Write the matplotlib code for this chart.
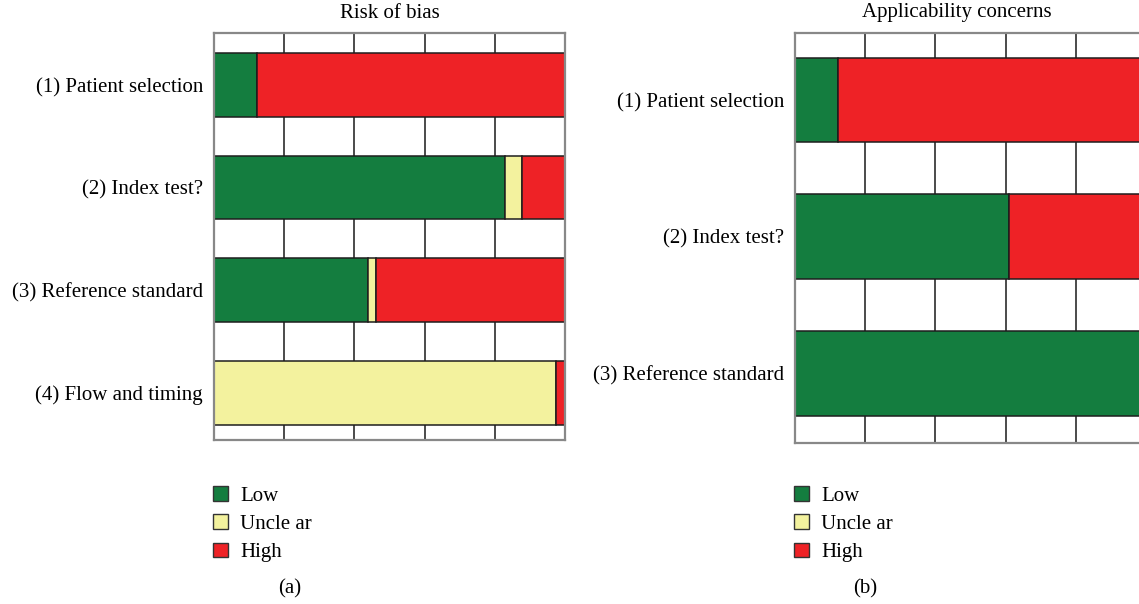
import matplotlib
matplotlib.use("Agg")
import matplotlib.pyplot as plt
from matplotlib.patches import Patch

plt.rcParams['font.family'] = ['Liberation Serif', 'DejaVu Serif']

# data (percent of studies)
domains_bias = ["(1) Patient selection", "(2) Index test?",
                "(3) Reference standard", "(4) Flow and timing"]
low_bias = [12.3, 82.9, 43.9, 0.0]
unclear_bias = [0.0, 4.8, 2.3, 97.4]
high_bias = [87.7, 12.3, 53.8, 2.6]

domains_appl = ["(1) Patient selection", "(2) Index test?", "(3) Reference standard"]
low_appl = [12.3, 61.0, 100.0]
unclear_appl = [0.0, 0.0, 0.0]
high_appl = [87.7, 39.0, 0.0]

legend_labels = ["Low", "Uncle ar", "High"]
colors = ["#147d3f", "#f3f29e", "#ee2226"]

FS = 15
W, H = 1139, 604
fig = plt.figure(figsize=(W / 100, H / 100), dpi=100)


def px_axes(left, top, right, bottom):
    return fig.add_axes([left / W, 1 - bottom / H, (right - left) / W, (bottom - top) / H])


def draw_panel(ax, domains, low, unclear, high, ylim):
    ypos = list(range(len(domains)))
    for x in [20, 40, 60, 80]:
        ax.axvline(x, color="#1a1a1a", lw=1.1, zorder=1)
    left = [0] * len(domains)
    for vals, col in zip([low, unclear, high], colors):
        ax.barh(ypos, vals, left=left, height=0.62, color=col,
                edgecolor="#1e1e1e", linewidth=1.1, zorder=2)
        left = [a + b for a, b in zip(left, vals)]
    ax.set_xlim(0, 100)
    ax.set_ylim(*ylim)
    ax.set_yticks(ypos)
    ax.set_yticklabels(domains, fontsize=FS)
    ax.set_xticks([])
    ax.tick_params(axis="y", length=0, pad=8)
    for s in ax.spines.values():
        s.set_color("#888888")
        s.set_linewidth(1.6)


ax1 = px_axes(214, 33, 565, 440)
draw_panel(ax1, domains_bias, low_bias, unclear_bias, high_bias, (3.46, -0.506))
ax2 = px_axes(795, 33, 1146, 443)
draw_panel(ax2, domains_appl, low_appl, unclear_appl, high_appl, (2.51, -0.49))

fig.text(390 / W, 1 - 13 / H, "Risk of bias", ha="center", va="center", fontsize=FS)
fig.text(957 / W, 1 - 13 / H, "Applicability concerns", ha="center", va="center", fontsize=FS)

handles = [Patch(facecolor=c, edgecolor="#333333", linewidth=1.0) for c in colors]
for xl in [213, 794]:
    fig.legend(handles, legend_labels, loc="upper left",
               bbox_to_anchor=(xl / W, 1 - 486 / H), frameon=False,
               fontsize=FS, handlelength=0.7, handleheight=0.7,
               handletextpad=0.6, labelspacing=0.42, borderpad=0, borderaxespad=0)

fig.text(290 / W, 1 - 589 / H, "(a)", ha="center", va="center", fontsize=FS)
fig.text(865 / W, 1 - 589 / H, "(b)", ha="center", va="center", fontsize=FS)

fig.savefig("out.png", dpi=100)
